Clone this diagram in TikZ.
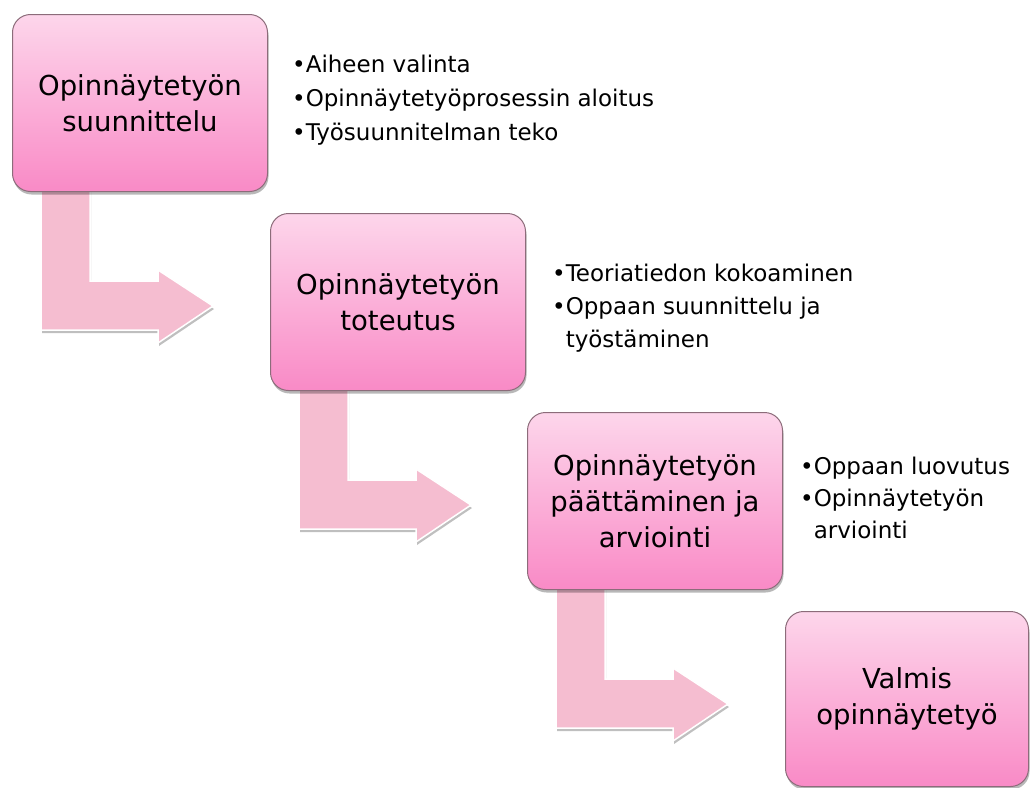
\documentclass[tikz,border=0pt]{standalone}
\usepackage{fontspec}
\setmainfont{DejaVu Sans}
\usetikzlibrary{shadows,calc,backgrounds}
\definecolor{boxtop}{RGB}{253,214,235}
\definecolor{boxbot}{RGB}{249,138,198}
\definecolor{boxline}{RGB}{140,108,122}
\definecolor{arrowfill}{RGB}{245,189,208}
\tikzset{
  stage/.style={draw=boxline, line width=1pt, rounded corners=18pt,
    top color=boxtop, bottom color=boxbot,
    minimum width=255pt, minimum height=177pt, anchor=north west,
    align=center, inner sep=0pt, font=\fontsize{27.5}{36}\selectfont,
    drop shadow={shadow xshift=1pt, shadow yshift=-3pt, opacity=0.28, fill=black}},
  bulletline/.style={anchor=base west, inner sep=0pt, font=\fontsize{23}{30}\selectfont},
  bentarrow/.style={fill=arrowfill, draw=white, line width=1.5pt, line join=miter,
    drop shadow={shadow xshift=1pt, shadow yshift=-3pt, opacity=0.25, fill=black}},
}
\newcommand\bentfrom[1]{%
  \path[bentarrow]
    ($(#1.south west)+(29,-6)$) -- ($(#1.south west)+(78,-6)$)
    -- ($(#1.south west)+(78,89)$) -- ($(#1.south west)+(146,89)$)
    -- ($(#1.south west)+(146,78)$) -- ($(#1.south west)+(201,114)$)
    -- ($(#1.south west)+(146,151)$) -- ($(#1.south west)+(146,138)$)
    -- ($(#1.south west)+(29,138)$) -- cycle;}
\begin{document}
\begin{tikzpicture}[x=1pt,y=-1pt]
\useasboundingbox (0,0) rectangle (1030,787);
% stages
\node[stage] (b1) at (12,14) {Opinnäytetyön\\suunnittelu};
\node[stage] (b2) at (270,213) {Opinnäytetyön\\toteutus};
\node[stage] (b3) at (527,412) {Opinnäytetyön\\päättäminen ja\\arviointi};
\node[stage, minimum width=243pt, minimum height=175pt] (b4) at (785,611) {Valmis\\opinnäytetyö};
% bent arrows behind the boxes
\begin{scope}[on background layer]
  \bentfrom{b1}
  \bentfrom{b2}
  \bentfrom{b3}
\end{scope}
% bullet texts
\node[bulletline] (t1a) at (292,72) {•Aiheen valinta};
\node[bulletline] (t1b) at (292,106) {•Opinnäytetyöprosessin aloitus};
\node[bulletline] (t1c) at (292,140) {•Työsuunnitelman teko};
\node[bulletline] (t2a) at (552,281) {•Teoriatiedon kokoaminen};
\node[bulletline] (t2b) at (552,314) {•Oppaan suunnittelu ja};
\node[bulletline] (t2c) at (552,347) {\phantom{•}työstäminen};
\node[bulletline] (t3a) at (800,474) {•Oppaan luovutus};
\node[bulletline] (t3b) at (800,506) {•Opinnäytetyön};
\node[bulletline] (t3c) at (800,538) {\phantom{•}arviointi};
\end{tikzpicture}
\end{document}
